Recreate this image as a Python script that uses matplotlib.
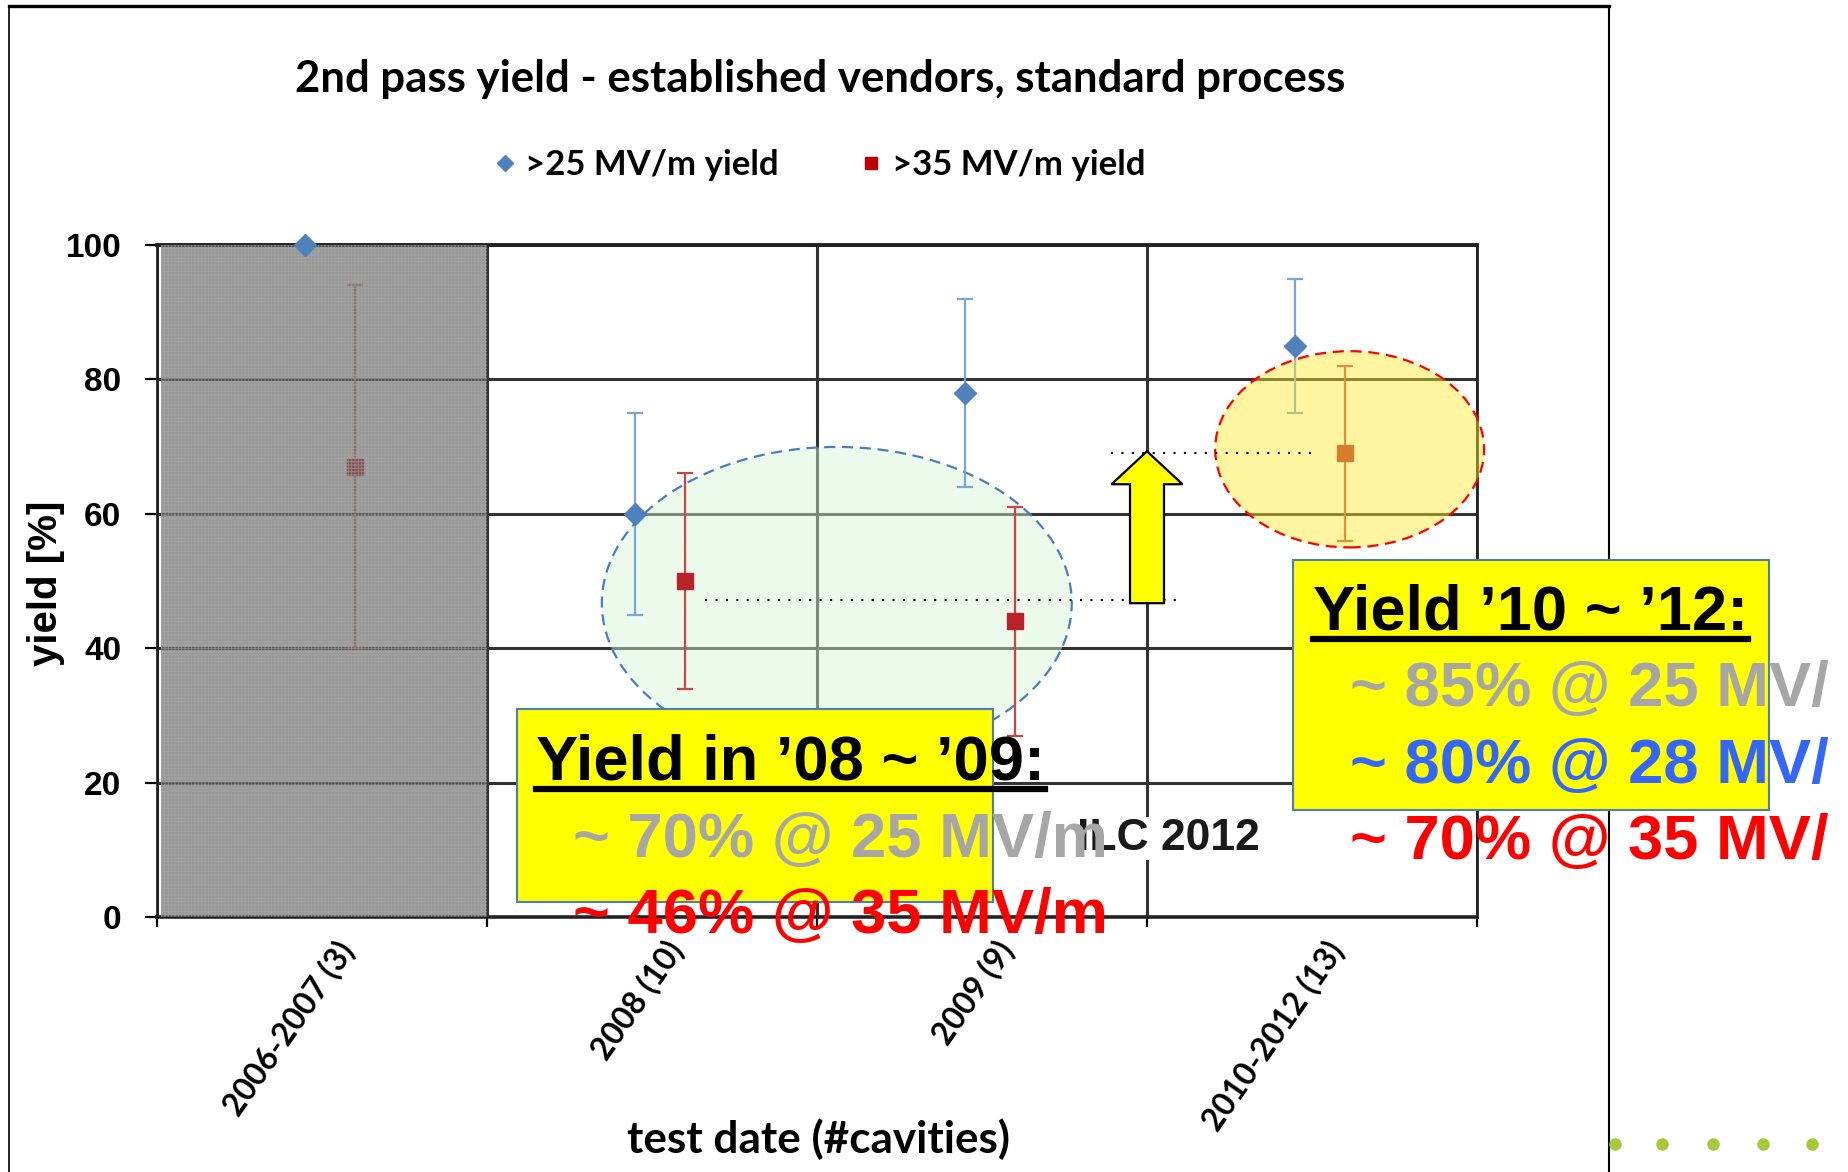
import matplotlib.pyplot as plt
import numpy as np
from matplotlib.patches import Rectangle, Ellipse, FancyArrow
from matplotlib.lines import Line2D
from matplotlib.transforms import ScaledTranslation, Bbox

W, H = 1849, 1172

categories = ["2006-2007 (3)", "2008 (10)", "2009 (9)", "2010-2012 (13)"]
yield_25 = [100, 60, 78, 85]
err_25 = [0, 15, 14, 10]
yield_35 = [67, 50, 44, 69]
err_35 = [27, 16, 17, 13]


def fx(px):
    return px / W


def fy(py):
    return 1 - py / H


plt.rcParams['font.family'] = ['Liberation Sans', 'DejaVu Sans']
plt.rcParams['font.weight'] = 'bold'
plt.rcParams['hatch.linewidth'] = 0.7

fig = plt.figure(figsize=(W / 100, H / 100), dpi=100)
ax = fig.add_axes([fx(157), fy(917), (1477 - 157) / W, (917 - 245) / H])

# green highlight sits under the markers
ax.add_patch(Ellipse((1.56, 46.7), 1.424, 46.5, facecolor=(0.84, 0.96, 0.84, 0.45),
                     edgecolor='#4a7ebb', ls=(0, (5, 3)), lw=1.6, zorder=3, clip_on=False))

x = np.arange(len(categories))
eb35 = ax.errorbar(x + 0.1, yield_35, yerr=err_35, fmt='s', color='#b82228', ms=12,
                   ecolor='#cc4444', elinewidth=1.6, capsize=6, capthick=1.6, zorder=4)
ax.axvspan(-0.488, 0.5, facecolor='#616161', edgecolor='#a8a8a8', hatch='+++++',
           alpha=0.65, lw=0, zorder=5)
eb25 = ax.errorbar(x - 0.05, yield_25, yerr=err_25, fmt='D', color='#4f81bd', ms=11,
                   ecolor='#7aa3d6', elinewidth=1.6, capsize=6, capthick=1.6, zorder=6)
for c in (eb35, eb25):
    for a in c.get_children():
        a.set_clip_on(False)

# yellow highlight sits over the 2010-2012 point
ax.add_patch(Ellipse((3.114, 69.6), 0.815, 29.2, facecolor=(1.0, 0.92, 0.18, 0.45),
                     edgecolor='#ff0000', ls=(0, (5, 3)), lw=1.6, zorder=7, clip_on=False))

# dotted reference lines + arrow
ax.plot([1.16, 2.6], [47.2, 47.2], ls=(0, (1, 4)), color='black', lw=1.5, zorder=8)
ax.plot([2.39, 3.01], [69.0, 69.0], ls=(0, (1, 4)), color='black', lw=1.5, zorder=8)
ax.add_patch(FancyArrow(2.5, 46.7, 0, 22.6, width=0.103, head_width=0.215, head_length=4.9,
                        length_includes_head=True, facecolor='#ffff00', edgecolor='black',
                        lw=1.6, zorder=9))

ax.set_xlim(-0.5, 3.5)
ax.set_ylim(0, 100)
ax.set_yticks(range(0, 101, 20))
ax.set_xticks(np.arange(-0.5, 4, 1))
ax.set_xticklabels([])
ax.set_xticks(x, categories, minor=True)
ax.grid(True, which='major', color='#333333', lw=2.2)
ax.set_axisbelow(True)
ax.tick_params(axis='y', which='major', length=8.6, width=1.6, pad=17, labelsize=24)
ax.tick_params(axis='x', which='major', length=7, width=1.6)
ax.tick_params(axis='x', which='minor', length=0, pad=20)
for lab in ax.get_xticklabels(minor=True):
    lab.set_rotation(55)
    lab.set_ha('right')
    lab.set_va('center')
    lab.set_rotation_mode('anchor')
    lab.set_fontfamily('Lato')
    lab.set_fontsize(23)
    lab.set_transform(lab.get_transform() + ScaledTranslation(18 / 72, 0, fig.dpi_scale_trans))
for side, lw in [('left', 2), ('bottom', 2.6), ('top', 2.8), ('right', 2)]:
    ax.spines[side].set_linewidth(lw)
    ax.spines[side].set_color('#222222')

# titles and labels
fig.text(fx(820), fy(79), "2nd pass yield - established vendors, standard process",
         ha='center', va='center', family='Lato', fontsize=31.5)
fig.text(fx(819), fy(1139), "test date (#cavities)", ha='center', va='center',
         family='Lato', fontsize=31.8)
fig.text(fx(46), fy(583), "yield [%]", rotation=90, ha='center', va='center', fontsize=29)

handles = [Line2D([], [], marker='D', color='#4f81bd', ls='none', ms=8),
           Line2D([], [], marker='s', color='#c00000', ls='none', ms=9)]
fig.legend(handles, [">25 MV/m yield", ">35 MV/m yield"], loc='center',
           bbox_to_anchor=(fx(818), fy(165)), ncol=2, frameon=False,
           prop=dict(family='Lato', weight='bold', size=25),
           handletextpad=0.2, columnspacing=2.25, handlelength=0.8)

# outer frame and slide dots
fig.add_artist(Line2D([fx(9), fx(1609)], [fy(6), fy(6)], color='black', lw=2.4))
fig.add_artist(Line2D([fx(9), fx(9)], [fy(6), 0], color='black', lw=1.2))
fig.add_artist(Line2D([fx(1609), fx(1609)], [fy(6), 0], color='black', lw=1.5))
fig.add_artist(Line2D([fx(p) for p in (1615, 1662, 1713, 1763, 1812)], [fy(1144)] * 5,
                      ls='none', marker='o', ms=8, color='#a8c83c'))

fig.text(fx(1077), fy(850), "ILC 2012", fontsize=32, color='#1a1a1a', va='baseline',
         bbox=dict(facecolor='white', edgecolor='none', pad=1), zorder=2)

# yellow callout boxes
fig.add_artist(Rectangle((fx(517), fy(902)), (993 - 517) / W, (902 - 709) / H,
                         transform=fig.transFigure, facecolor='#ffff00',
                         edgecolor='#4a7ebb', lw=1.5, zorder=3))
fig.add_artist(Rectangle((fx(1293), fy(810)), (1769 - 1293) / W, (810 - 560) / H,
                         transform=fig.transFigure, facecolor='#ffff00',
                         edgecolor='#4a7ebb', lw=1.5, zorder=3))

clip = Bbox.from_extents(0, 0, 1828, H)
box_lines = [
    (536, 779, "Yield in \u201908 ~ \u201909:", 'black', True),
    (573, 857, "~ 70% @ 25 MV/m", '#a6a6a6', False),
    (573, 933, "~ 46% @ 35 MV/m", '#ff0000', False),
    (1313, 629, "Yield \u201910 ~ \u201912:", 'black', True),
    (1350, 706, "~ 85% @ 25 MV/m", '#a6a6a6', False),
    (1350, 783, "~ 80% @ 28 MV/m", '#3366ff', False),
    (1350, 859, "~ 70% @ 35 MV/m", '#ff0000', False),
]
texts = []
for px, py, s, c, ul in box_lines:
    t = fig.text(fx(px), fy(py), s, color=c, fontsize=45.5, va='baseline', zorder=4)
    t.set_clip_box(clip)
    t.set_clip_on(True)
    texts.append((t, py, ul))

renderer = fig.canvas.get_renderer()
for t, py, ul in texts:
    if ul:
        bb = t.get_window_extent(renderer)
        fig.add_artist(Line2D([bb.x0 / W, bb.x1 / W], [fy(py + 10), fy(py + 10)],
                              color='black', lw=4.5, zorder=5))

fig.savefig("out.png", dpi=100)
